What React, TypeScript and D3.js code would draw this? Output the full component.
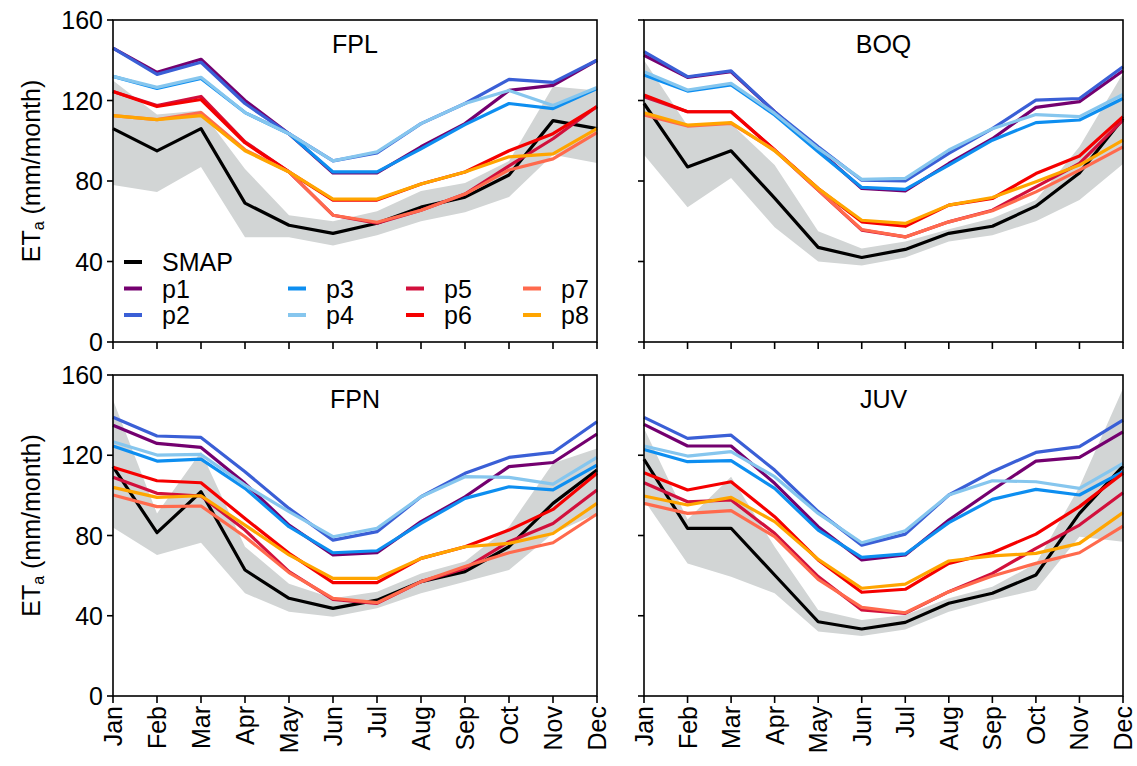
import React from 'react';
import * as d3 from 'd3';

const MONTHS = ['Jan', 'Feb', 'Mar', 'Apr', 'May', 'Jun', 'Jul', 'Aug', 'Sep', 'Oct', 'Nov', 'Dec'];
const Y_TICKS = [0, 40, 80, 120, 160];
const RUN_NAMES = ['p1', 'p2', 'p3', 'p4', 'p5', 'p6', 'p7', 'p8'];
const RUN_COLORS = ['#74006f', '#3a5fd6', '#0d8ef0', '#86c6ee', '#d2103c', '#f50000', '#ff6a4d', '#ffa500'];

// FPL
const FPL_SMAP = [106, 95, 106, 69, 58, 54, 59, 67, 72, 83, 110, 106];
const FPL_LO = [78, 74.5, 87, 52, 52, 48, 53, 60, 64.5, 72, 93, 89];
const FPL_HI = [130, 113, 115, 86, 63, 60, 65, 75, 79, 90, 127, 125];
const FPL_RUNS = [
  [146, 134, 140.5, 120, 103.5, 84, 84, 97, 108.5, 125, 127.5, 140],
  [146, 133, 139, 118.5, 103.5, 90, 94, 108.5, 118.5, 130.5, 129, 140],
  [132, 126, 131, 114, 103.5, 84.5, 84.5, 96, 108, 118.5, 116, 126],
  [132, 126.5, 131.5, 114, 103.5, 90, 94.5, 108.5, 118.5, 125, 117.5, 126.5],
  [124.5, 117.5, 122, 99.5, 84.5, 63, 59, 65.5, 73.5, 87.5, 101, 117],
  [124.5, 117, 120.5, 99, 84.5, 70.5, 70.5, 78.5, 84.5, 95, 103.5, 117],
  [112.5, 110.5, 114, 95.5, 84.5, 63, 59.5, 65.5, 73.5, 85.5, 91, 104],
  [112.5, 110.5, 112.5, 95, 84.5, 71, 71, 78.5, 84.5, 92, 93.5, 106],
];

// BOQ
const BOQ_SMAP = [118.5, 87, 95, 71.5, 47, 42, 46, 54, 57.5, 67.5, 84, 111];
const BOQ_LO = [93, 67, 81.5, 57, 40, 38, 42, 50, 53, 60, 70.5, 88.5];
const BOQ_HI = [140, 107.5, 108.5, 88, 55, 46.5, 50, 56, 61.5, 70.5, 97, 133.5];
const BOQ_RUNS = [
  [142.5, 131.5, 134.3, 114.4, 95.4, 76.3, 75.1, 88.7, 101, 116.6, 119.4, 134.8],
  [144.3, 131.8, 134.7, 114.4, 97, 80.4, 80, 93.7, 106, 120.2, 121, 136.8],
  [132.7, 124.7, 127.7, 112.8, 94.5, 76.8, 75.8, 87.9, 100.3, 109, 110.3, 121],
  [134.3, 125.2, 128.5, 113.6, 96.2, 80.8, 81.3, 95.4, 106, 113, 112, 123],
  [121.9, 114.4, 114.4, 95.4, 75.5, 55.6, 52.2, 59.7, 65.5, 77.1, 88.7, 110.3],
  [122.7, 114.4, 114.4, 95.4, 76.3, 59.7, 57.5, 68, 71.3, 83.7, 92.4, 112],
  [112.8, 107.3, 108.6, 95.4, 75.5, 55.9, 52.2, 59.7, 65.2, 74.6, 85.4, 97],
  [113.9, 107.8, 109, 95, 76.3, 60.5, 58.9, 68, 71.8, 79.6, 87.9, 100.3],
];

// FPN
const FPN_SMAP = [114.3, 81.4, 101.8, 62.8, 48.7, 43.7, 47.8, 57, 62, 74.4, 96, 112.6];
const FPN_LO = [84, 70.3, 76.4, 51.2, 42, 39.5, 43.7, 51.2, 57, 62.8, 81, 91];
const FPN_HI = [147.5, 91, 121.8, 74.4, 56, 48.7, 52, 61, 67, 84.4, 116, 123.4];
const FPN_RUNS = [
  [135, 125.9, 123.9, 106, 85.2, 70.3, 71.4, 86.9, 99.3, 114.3, 116.4, 130.6],
  [138.9, 129.6, 128.9, 111.8, 93.5, 77.7, 81.9, 99.3, 111, 118.9, 121.4, 136.7],
  [124.6, 117.1, 118.1, 103.5, 84.4, 71.4, 72.4, 86, 98.5, 104.3, 102.7, 115.1],
  [126.7, 120.1, 120.4, 105.1, 91.9, 79.4, 83.6, 99.3, 109.3, 109, 105.6, 118.9],
  [109, 101, 99.7, 82.7, 62, 48.2, 46.2, 57, 63.6, 76.9, 86, 102.7],
  [114, 107.3, 106.3, 88.5, 71.1, 56.5, 56.5, 68.6, 74.4, 82.7, 93, 111],
  [100.2, 94.4, 94.7, 79.4, 61.5, 48.7, 46.5, 57, 64.5, 71.4, 76.4, 90.7],
  [104, 99, 99.8, 85.2, 70.3, 58.6, 58.6, 68.6, 74.4, 76.1, 81, 96],
];

// JUV
const JUV_SMAP = [118, 83.6, 83.6, 60.3, 37, 33.4, 36.7, 46.2, 51.2, 60.3, 91, 114.6];
const JUV_LO = [97.7, 66, 59.5, 51.2, 32.1, 29.9, 33.2, 42, 47.8, 52.8, 79.4, 76.9];
const JUV_HI = [133.4, 88, 109.3, 74.4, 42.9, 37.9, 40.4, 48.7, 54.5, 66, 104.3, 153.3];
const JUV_RUNS = [
  [135.4, 124.6, 124.6, 106, 84.4, 67.8, 70.3, 87.7, 102.7, 117.1, 118.9, 131.7],
  [138.9, 128.4, 130, 112.6, 91.9, 75.2, 80.7, 100.2, 111.8, 121.4, 124.3, 137.5],
  [122.9, 116.8, 117.3, 103.5, 82.7, 69.1, 70.8, 86.4, 98, 103, 100.2, 111.8],
  [124.6, 119.6, 121.8, 109.3, 91, 76.4, 82.4, 100.2, 107.3, 106.8, 103.5, 116],
  [106.3, 96.8, 97.7, 81.1, 59.5, 42.9, 41.2, 52, 61.1, 73.6, 85.2, 101.3],
  [111.3, 102.7, 106.8, 89.4, 67.8, 51.7, 53.2, 66.1, 71.4, 80.7, 94.4, 111],
  [96, 91, 92.4, 79.4, 58.1, 44.2, 41.5, 52, 59.8, 66.1, 71.4, 84.7],
  [99.7, 95.2, 99, 86.9, 68.1, 53.7, 55.8, 67.3, 69.8, 71.1, 76.1, 91.4],
];

const FONT = '"Liberation Sans", Arial, Helvetica, sans-serif';
const FS = 25;
const BAND = '#d2d5d5';

type Site = { name: string; smap: number[]; lo: number[]; hi: number[]; runs: number[][] };

function Panel({ site, x0, x1, y0, y1, yLabels, xLabels, legend }: {
  site: Site; x0: number; x1: number; y0: number; y1: number;
  yLabels: boolean; xLabels: boolean; legend: boolean;
}) {
  const x = d3.scalePoint<string>().domain(MONTHS).range([x0, x1]);
  const y = d3.scaleLinear().domain([0, 160]).range([y1, y0]);

  const line = d3.line<number>().x((_, i) => x(MONTHS[i])!).y(d => y(d));
  const band = d3.area<number>()
    .x((_, i) => x(MONTHS[i])!)
    .y0((_, i) => y(site.lo[i]))
    .y1(d => y(d));

  const legendItems = [
    { label: 'SMAP', color: '#000', col: 0, row: 0 },
    ...RUN_NAMES.map((n, i) => ({ label: n, color: RUN_COLORS[i], col: Math.floor(i / 2), row: (i % 2) + 1 })),
  ];
  const colX = [124, 288, 406, 523];

  return (
    <g>
      <path d={band(site.hi) || ''} fill={BAND} />
      <path d={line(site.smap) || ''} fill="none" stroke="#000" strokeWidth={3.2} strokeLinejoin="round" />
      {site.runs.map((r, i) => (
        <path key={i} d={line(r) || ''} fill="none" stroke={RUN_COLORS[i]} strokeWidth={3.2} strokeLinejoin="round" />
      ))}
      <rect x={x0} y={y0} width={x1 - x0} height={y1 - y0} fill="none" stroke="#000" strokeWidth={1.6} />

      {Y_TICKS.map(t => (
        <g key={t}>
          <line x1={x0 - 6} x2={x0} y1={y(t)} y2={y(t)} stroke="#000" strokeWidth={1.6} />
          {yLabels && (
            <text x={x0 - 10} y={y(t) + 9} textAnchor="end" fontSize={FS} fontFamily={FONT}>{t}</text>
          )}
        </g>
      ))}
      {MONTHS.map(m => (
        <g key={m}>
          <line x1={x(m)} x2={x(m)} y1={y1} y2={y1 + 7} stroke="#000" strokeWidth={1.6} />
          {xLabels && (
            <text transform={`translate(${x(m)! + 9},${y1 + 10}) rotate(-90)`} textAnchor="end"
              fontSize={FS} fontFamily={FONT}>{m}</text>
          )}
        </g>
      ))}

      <text x={(x0 + x1) / 2} y={y0 + 33} textAnchor="middle" fontSize={FS} fontFamily={FONT}>{site.name}</text>

      {yLabels && (
        <text transform={`translate(40,${(y0 + y1) / 2 - 10}) rotate(-90)`} textAnchor="middle"
          fontSize={FS} fontFamily={FONT}>
          ET<tspan fontSize={16} dy={4}>a</tspan><tspan dy={-4}> (mm/month)</tspan>
        </text>
      )}

      {legend && legendItems.map(it => {
        const ly = 262 + it.row * 26.5;
        const lx = colX[it.col];
        return (
          <g key={it.label}>
            <line x1={lx} x2={lx + 18} y1={ly} y2={ly} stroke={it.color} strokeWidth={4} />
            <text x={lx + 38} y={ly + 9} fontSize={FS} fontFamily={FONT}>{it.label}</text>
          </g>
        );
      })}
    </g>
  );
}

export default function App() {
  const sites: Site[] = [
    { name: 'FPL', smap: FPL_SMAP, lo: FPL_LO, hi: FPL_HI, runs: FPL_RUNS },
    { name: 'BOQ', smap: BOQ_SMAP, lo: BOQ_LO, hi: BOQ_HI, runs: BOQ_RUNS },
    { name: 'FPN', smap: FPN_SMAP, lo: FPN_LO, hi: FPN_HI, runs: FPN_RUNS },
    { name: 'JUV', smap: JUV_SMAP, lo: JUV_LO, hi: JUV_HI, runs: JUV_RUNS },
  ];
  const cols = [[113, 597], [644, 1123]];
  const rows = [[20, 342], [375, 696]];

  return (
    <svg width={1137} height={766} style={{ position: 'absolute', left: 0, top: 0, background: '#fff' }}>
      {sites.map((s, i) => {
        const c = cols[i % 2];
        const r = rows[Math.floor(i / 2)];
        return (
          <Panel key={s.name} site={s} x0={c[0]} x1={c[1]} y0={r[0]} y1={r[1]}
            yLabels={i % 2 === 0} xLabels={i >= 2} legend={i === 0} />
        );
      })}
    </svg>
  );
}
